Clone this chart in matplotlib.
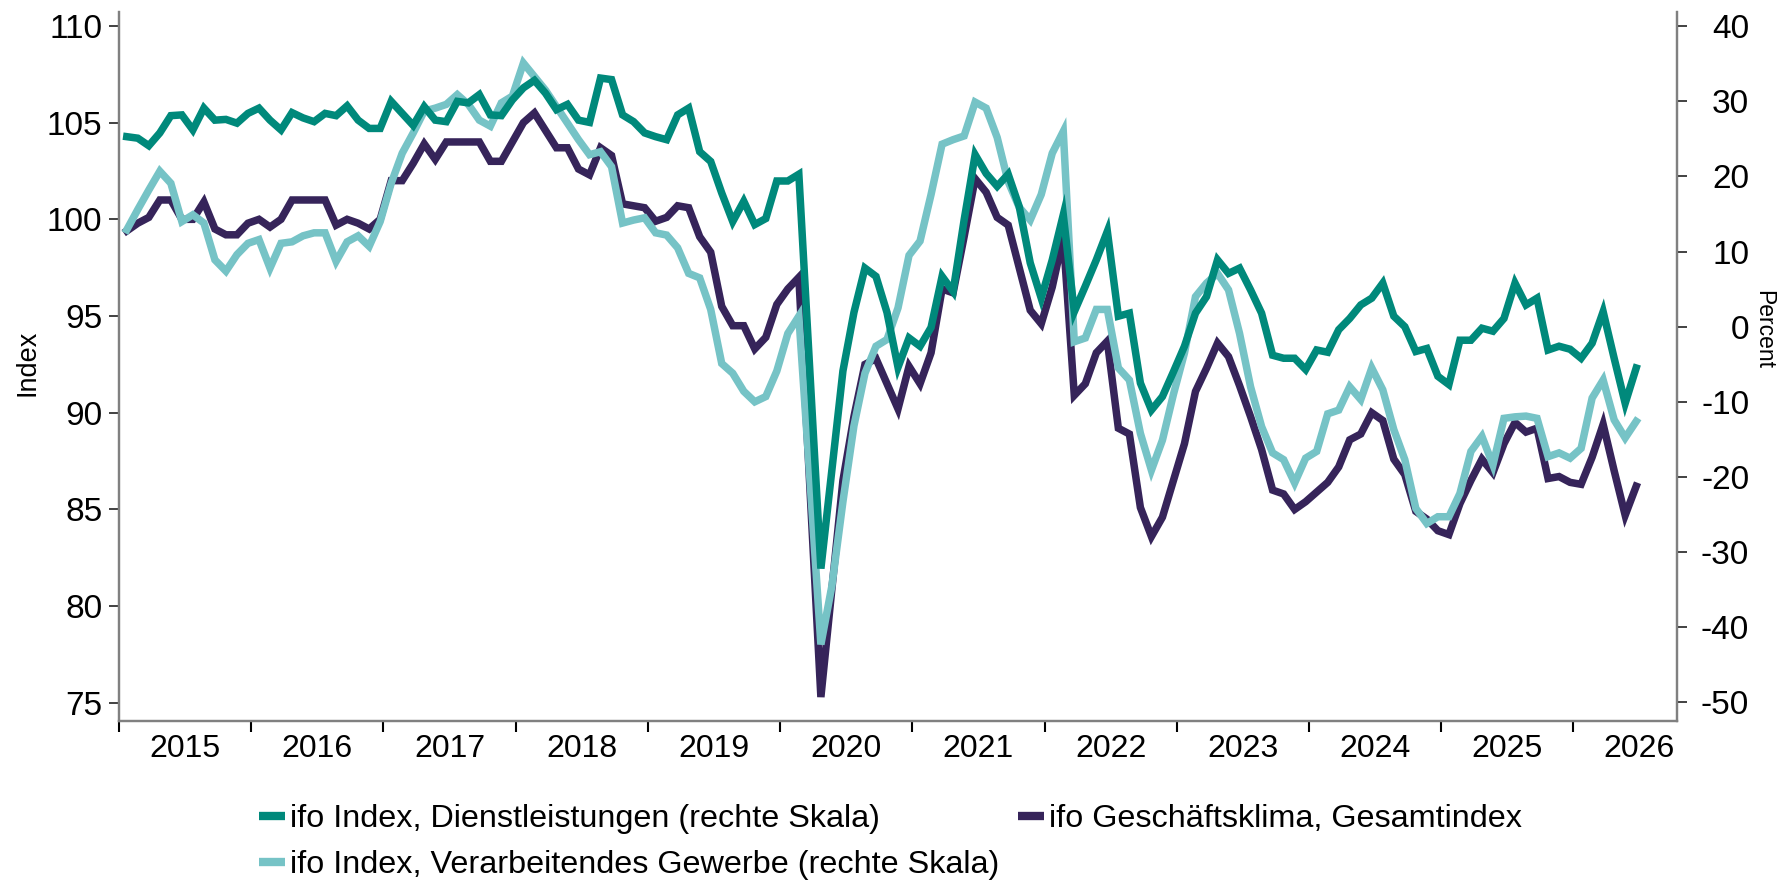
import numpy as np
import matplotlib.pyplot as plt
from matplotlib.lines import Line2D

plt.rcParams['font.family'] = ['Liberation Sans', 'DejaVu Sans']
plt.rcParams['axes.unicode_minus'] = False

# monthly values, Jan 2015 .. Jun 2026
gesamt = [
    99.4, 99.8, 100.1, 101.0, 101.0, 100.0, 100.0, 100.9, 99.5, 99.2, 99.2, 99.8,
    100.0, 99.6, 100.0, 101.0, 101.0, 101.0, 101.0, 99.7, 100.0, 99.8, 99.5, 100.0,
    102.0, 102.0, 102.9, 103.9, 103.1, 104.0, 104.0, 104.0, 104.0, 103.0, 103.0, 104.0,
    105.0, 105.5, 104.6, 103.7, 103.7, 102.6, 102.3, 103.7, 103.3, 100.8, 100.7, 100.6,
    99.9, 100.1, 100.7, 100.6, 99.1, 98.3, 95.5, 94.5, 94.5, 93.3, 93.9, 95.6,
    96.4, 97.0, 86.2, 75.3, 80.9, 86.5, 89.8, 92.5, 92.8, 91.5, 90.2, 92.4,
    91.5, 93.1, 96.4, 96.2, 99.1, 102.1, 101.4, 100.1, 99.7, 97.5, 95.3, 94.6,
    96.5, 99.1, 90.9, 91.5, 93.1, 93.7, 89.2, 88.9, 85.1, 83.6, 84.6, 86.5,
    88.4, 91.1, 92.3, 93.6, 92.9, 91.4, 89.8, 88.1, 86.0, 85.8, 85.0, 85.4,
    85.9, 86.4, 87.2, 88.6, 88.9, 90.0, 89.6, 87.6, 86.8, 84.9, 84.5, 83.9,
    83.7, 85.3, 86.5, 87.6, 86.9, 88.4, 89.5, 89.0, 89.2, 86.6, 86.7, 86.4,
    86.3, 87.7, 89.4, 87.0, 84.7, 86.2,
]

dienst = [
    25.3, 25.1, 24.1, 25.8, 28.1, 28.2, 26.2, 29.1, 27.5, 27.6, 27.1, 28.4,
    29.1, 27.5, 26.2, 28.5, 27.8, 27.3, 28.4, 28.1, 29.4, 27.5, 26.4, 26.4,
    30.0, 28.4, 26.8, 29.3, 27.5, 27.3, 30.0, 29.8, 30.9, 28.2, 28.1, 30.2,
    31.8, 32.8, 31.1, 28.9, 29.6, 27.5, 27.2, 33.1, 32.9, 28.2, 27.3, 25.8,
    25.3, 24.9, 28.2, 29.1, 23.3, 22.0, 17.8, 14.0, 16.7, 13.6, 14.4, 19.4,
    19.4, 20.3, -5.9, -32.2, -19.0, -5.9, 1.9, 7.8, 6.7, 1.9, -5.4, -1.5,
    -2.6, -0.1, 6.7, 4.7, 14.2, 22.9, 20.4, 18.7, 20.3, 16.0, 8.5, 3.8,
    8.9, 14.9, 2.0, 5.4, 8.9, 12.7, 1.4, 1.8, -7.5, -11.1, -9.3, -6.0,
    -2.6, 1.8, 4.0, 8.9, 7.1, 7.8, 4.9, 1.8, -3.8, -4.2, -4.2, -5.7,
    -3.1, -3.4, -0.4, 1.1, 2.9, 3.8, 5.8, 1.4, 0.0, -3.3, -2.9, -6.6,
    -7.7, -1.8, -1.8, -0.2, -0.6, 1.1, 5.8, 2.9, 3.8, -3.1, -2.6, -3.0,
    -4.2, -2.2, 2.0, -4.2, -10.2, -5.5,
]

verarb = [
    12.9, 15.6, 18.2, 20.7, 19.1, 14.0, 14.9, 13.8, 8.9, 7.4, 9.6, 11.1,
    11.6, 7.8, 11.1, 11.3, 12.1, 12.5, 12.5, 8.7, 11.3, 12.1, 10.7, 14.0,
    19.1, 23.1, 25.8, 28.7, 29.1, 29.6, 30.9, 29.6, 27.5, 26.7, 29.8, 30.7,
    35.1, 33.3, 31.5, 29.3, 27.1, 24.9, 22.9, 23.3, 21.3, 13.8, 14.2, 14.5,
    12.5, 12.2, 10.5, 7.1, 6.5, 2.3, -4.9, -6.2, -8.6, -10.0, -9.3, -5.9,
    -0.9, 1.4, -20.2, -42.3, -34.5, -23.3, -13.2, -6.2, -2.6, -1.7, 2.5, 9.5,
    11.4, 17.6, 24.3, 24.9, 25.4, 29.9, 29.1, 25.2, 19.3, 15.9, 14.2, 17.6,
    23.1, 26.0, -2.0, -1.5, 2.3, 2.3, -5.5, -7.1, -14.2, -19.1, -15.1, -9.0,
    -3.5, 4.0, 5.8, 7.1, 4.9, -0.9, -8.0, -13.3, -16.8, -17.7, -20.8, -17.5,
    -16.6, -11.6, -11.1, -8.0, -9.7, -5.5, -8.4, -13.7, -17.7, -24.2, -26.2, -25.3,
    -25.3, -22.2, -16.6, -14.6, -18.4, -12.2, -12.0, -11.9, -12.2, -17.3, -16.8, -17.5,
    -16.2, -9.5, -7.1, -12.4, -14.8, -12.6,
]

years = list(range(2015, 2027))

TEAL = '#00897b'
LIGHT = '#76c3c6'
PURPLE = '#36245a'
GREY = '#808080'

months = np.arange(len(gesamt))

fig = plt.figure(figsize=(17.77, 8.82), dpi=100)
ax = fig.add_axes([0.067, 0.1825, 0.8767, 0.8039])
ax2 = ax.twinx()

ax.plot(months, gesamt, color=PURPLE, lw=5.4, solid_joinstyle='miter')
ax2.plot(months, verarb, color=LIGHT, lw=5.4, solid_joinstyle='miter')
ax2.plot(months, dienst, color=TEAL, lw=5.4, solid_joinstyle='miter')

ax.set_xlim(-0.7, 140.7)
ax.set_ylim(74.06, 110.72)
ax2.set_ylim(-52.5, 41.9)

ax.set_yticks(range(75, 111, 5))
ax2.set_yticks(range(-50, 41, 10))

# year ticks at year boundaries, labels in the middle of each year
ax.set_xticks(np.arange(-0.7, 140, 12))
ax.set_xticklabels([])
ax.set_xticks(np.arange(5.3, 141, 12), minor=True)
ax.set_xticklabels([str(y) for y in years], minor=True)
ax.tick_params(axis='x', which='major', direction='out', length=8, width=1.5, color='black')
ax.tick_params(axis='x', which='minor', length=0, labelsize=23, pad=9)

ax.tick_params(axis='y', direction='out', length=7, width=1.3, color='#333333', labelsize=24, pad=5)
ax2.tick_params(axis='y', direction='out', length=7, width=1.3, color='#333333', labelsize=24, pad=45)
for lab in ax2.get_yticklabels():
    lab.set_horizontalalignment('right')

for a in (ax, ax2):
    a.spines['top'].set_visible(False)
    for s in ('left', 'right', 'bottom'):
        a.spines[s].set_color(GREY)
        a.spines[s].set_linewidth(1.6)

fig.text(28 / 1777, 1 - 363 / 882, 'Index', rotation=90, ha='center', va='center', fontsize=19.5)
fig.text(1763.5 / 1777, 1 - 330 / 882, 'Percent', rotation=270, ha='center', va='center', fontsize=16.5)

handles = [
    Line2D([], [], color=TEAL, lw=6, solid_capstyle='butt'),
    Line2D([], [], color=LIGHT, lw=6, solid_capstyle='butt'),
    Line2D([], [], color=PURPLE, lw=6, solid_capstyle='butt'),
]
labels = [
    'ifo Index, Dienstleistungen (rechte Skala)',
    'ifo Index, Verarbeitendes Gewerbe (rechte Skala)',
    'ifo Geschäftsklima, Gesamtindex',
]
fig.legend(handles, labels, ncol=2, loc='upper left', bbox_to_anchor=(259 / 1777, 1 - 804 / 882),
           frameon=False, fontsize=23.3, handlelength=0.8, handletextpad=0.15,
           columnspacing=0.6, labelspacing=0.5, borderpad=0, borderaxespad=0)

fig.savefig('out.png', dpi=100)
